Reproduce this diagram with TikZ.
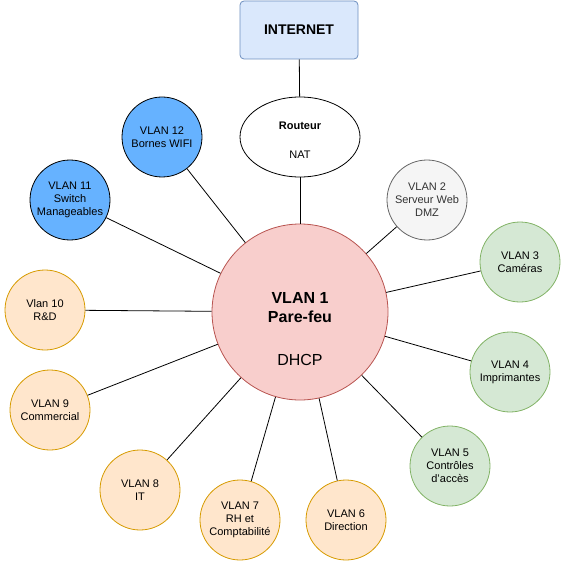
\documentclass[tikz,border=0pt]{standalone}
\usepackage{fontspec}
\setmainfont{Liberation Sans}
\usetikzlibrary{shapes.geometric}
\definecolor{bluef}{HTML}{DAE8FC}\definecolor{blues}{HTML}{6C8EBF}
\definecolor{redf}{HTML}{F8CECC}\definecolor{reds}{HTML}{B85450}
\definecolor{bf}{HTML}{66B2FF}\definecolor{bs}{HTML}{10739E}
\definecolor{gf}{HTML}{F5F5F5}\definecolor{gs}{HTML}{666666}\definecolor{gt}{HTML}{333333}
\definecolor{grf}{HTML}{D5E8D4}\definecolor{grs}{HTML}{82B366}
\definecolor{of}{HTML}{FFE6CC}\definecolor{os}{HTML}{D79B00}
\begin{document}
\begin{tikzpicture}[x=1pt,y=-1pt,
  sm/.style={circle,minimum size=80pt,inner sep=0pt,align=center,font=\fontsize{11}{13}\selectfont,line width=0.8pt},
  blu/.style={sm,fill=bf,draw=black},
  gry/.style={sm,fill=gf,draw=gs,text=gt},
  grn/.style={sm,fill=grf,draw=grs},
  org/.style={sm,fill=of,draw=os},
  ln/.style={line width=0.8pt}]
\useasboundingbox (0,0) rectangle (561,561);
\node[draw=blues,fill=bluef,rounded corners=4pt,minimum width=118pt,minimum height=58pt,font=\fontsize{14}{16}\selectfont\bfseries,line width=0.8pt] (inet) at (299,30) {INTERNET};
\node[ellipse,draw=black,fill=white,minimum width=120pt,minimum height=80pt,inner sep=0pt,line width=0.8pt] (rt) at (300,137) {};
\node[font=\fontsize{11}{13}\selectfont\bfseries] (rtl) at (300,126) {Routeur};
\node[font=\fontsize{11}{13}\selectfont] (nat) at (300,155) {NAT};
\node[circle,draw=reds,fill=redf,minimum size=176pt,inner sep=0pt,line width=0.8pt] (c) at (300,312) {};
\node[font=\fontsize{16}{19}\selectfont\bfseries,align=center] (c1) at (300,308) {VLAN 1\\Pare-feu};
\node[font=\fontsize{16}{19}\selectfont] (c2) at (300,360) {DHCP};
\node[blu] (v12) at (162,137) {VLAN 12\\Bornes WIFI};
\node[blu] (v11) at (70,200) {VLAN 11\\Switch\\Manageables};
\node[gry] (v2) at (427,200) {VLAN 2\\Serveur Web\\DMZ};
\node[grn] (v3) at (520,262) {VLAN 3\\Caméras};
\node[grn] (v4) at (510,372) {VLAN 4\\Imprimantes};
\node[grn] (v5) at (450,466) {VLAN 5\\Contrôles\\d'accès};
\node[org] (v6) at (346,520) {VLAN 6\\Direction};
\node[org] (v7) at (240,520) {VLAN 7\\RH et\\Comptabilité};
\node[org] (v8) at (140,490) {VLAN 8\\IT};
\node[org] (v9) at (50,410) {VLAN 9\\Commercial};
\node[org] (v10) at (45,310) {Vlan 10\\R\&D};
\draw[ln] (inet) -- (rt);
\draw[ln] (rt) -- (c);
\foreach \n in {v12,v11,v2,v3,v4,v5,v6,v7,v8,v9,v10} \draw[ln] (\n) -- (c);
\end{tikzpicture}
\end{document}
